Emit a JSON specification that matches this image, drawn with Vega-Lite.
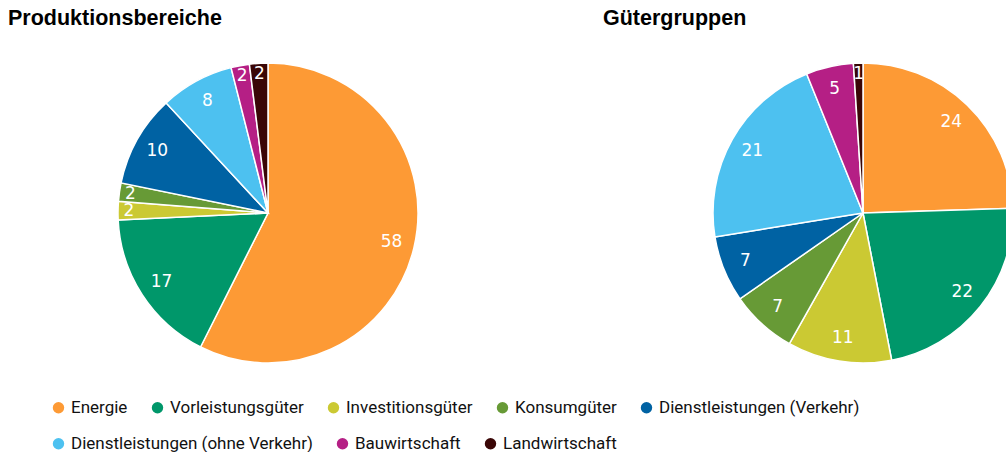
{
  "$schema": "https://vega.github.io/schema/vega-lite/v6.json",
  "padding": {"left": 8, "top": 8, "right": 0, "bottom": 0},
  "background": "white",
  "data": {"values": [
    {"gruppe": "Produktionsbereiche", "kategorie": "Energie", "k": 1, "wert": 58},
    {"gruppe": "Produktionsbereiche", "kategorie": "Vorleistungsgüter", "k": 2, "wert": 17},
    {"gruppe": "Produktionsbereiche", "kategorie": "Investitionsgüter", "k": 3, "wert": 2},
    {"gruppe": "Produktionsbereiche", "kategorie": "Konsumgüter", "k": 4, "wert": 2},
    {"gruppe": "Produktionsbereiche", "kategorie": "Dienstleistungen (Verkehr)", "k": 5, "wert": 10},
    {"gruppe": "Produktionsbereiche", "kategorie": "Dienstleistungen (ohne Verkehr)", "k": 6, "wert": 8},
    {"gruppe": "Produktionsbereiche", "kategorie": "Bauwirtschaft", "k": 7, "wert": 2},
    {"gruppe": "Produktionsbereiche", "kategorie": "Landwirtschaft", "k": 8, "wert": 2},
    {"gruppe": "Gütergruppen", "kategorie": "Energie", "k": 1, "wert": 24},
    {"gruppe": "Gütergruppen", "kategorie": "Vorleistungsgüter", "k": 2, "wert": 22},
    {"gruppe": "Gütergruppen", "kategorie": "Investitionsgüter", "k": 3, "wert": 11},
    {"gruppe": "Gütergruppen", "kategorie": "Konsumgüter", "k": 4, "wert": 7},
    {"gruppe": "Gütergruppen", "kategorie": "Dienstleistungen (Verkehr)", "k": 5, "wert": 7},
    {"gruppe": "Gütergruppen", "kategorie": "Dienstleistungen (ohne Verkehr)", "k": 6, "wert": 21},
    {"gruppe": "Gütergruppen", "kategorie": "Bauwirtschaft", "k": 7, "wert": 5},
    {"gruppe": "Gütergruppen", "kategorie": "Landwirtschaft", "k": 8, "wert": 1}
  ]},
  "facet": {
    "column": {
      "field": "gruppe",
      "sort": ["Produktionsbereiche", "Gütergruppen"],
      "title": null,
      "header": {
        "labelAnchor": "start",
        "labelAlign": "left",
        "labelFontSize": 21.5,
        "labelFontWeight": "bold",
        "labelFont": "Liberation Sans",
        "labelColor": "#000000",
        "labelPadding": 23.5
      }
    }
  },
  "spacing": 75,
  "spec": {
    "width": 520,
    "height": 320,
    "encoding": {
      "theta": {"field": "wert", "type": "quantitative", "stack": true},
      "order": {"field": "k", "type": "quantitative", "sort": "ascending"}
    },
    "layer": [
      {
        "mark": {"type": "arc", "radius": 150, "stroke": "white", "strokeWidth": 1.5},
        "encoding": {
          "color": {
            "field": "kategorie",
            "type": "nominal",
            "scale": {
              "domain": ["Energie", "Vorleistungsgüter", "Investitionsgüter", "Konsumgüter", "Dienstleistungen (Verkehr)", "Dienstleistungen (ohne Verkehr)", "Bauwirtschaft", "Landwirtschaft"],
              "range": ["#FD9A35", "#00976A", "#CBC933", "#679A36", "#0062A3", "#4DC1F0", "#B51F85", "#3A0606"]
            },
            "legend": {
              "title": null,
              "orient": "none",
              "legendX": 42,
              "legendY": 346,
              "direction": "horizontal",
              "values": ["Energie", "Vorleistungsgüter", "Investitionsgüter", "Konsumgüter", "Dienstleistungen (Verkehr)"],
              "symbolType": "circle",
              "symbolSize": 130,
              "symbolStrokeWidth": 0,
              "labelFont": "Roboto",
              "labelFontSize": 17,
              "labelColor": "#111111",
              "labelLimit": 400,
              "labelOffset": 4,
              "columnPadding": 21
            }
          }
        }
      },
      {
        "mark": {"type": "arc", "radius": 150, "stroke": "white", "strokeWidth": 1.5},
        "encoding": {
          "fill": {
            "field": "kategorie",
            "type": "nominal",
            "scale": {
              "domain": ["Landwirtschaft", "Bauwirtschaft", "Dienstleistungen (ohne Verkehr)", "Dienstleistungen (Verkehr)", "Konsumgüter", "Investitionsgüter", "Vorleistungsgüter", "Energie"],
              "range": ["#3A0606", "#B51F85", "#4DC1F0", "#0062A3", "#679A36", "#CBC933", "#00976A", "#FD9A35"]
            },
            "legend": {
              "title": null,
              "orient": "none",
              "legendX": 42,
              "legendY": 382,
              "direction": "horizontal",
              "values": ["Dienstleistungen (ohne Verkehr)", "Bauwirtschaft", "Landwirtschaft"],
              "symbolType": "circle",
              "symbolSize": 130,
              "symbolStrokeWidth": 0,
              "symbolStrokeColor": "transparent",
              "labelFont": "Roboto",
              "labelFontSize": 17,
              "labelColor": "#111111",
              "labelLimit": 400,
              "labelOffset": 4,
              "columnPadding": 21
            }
          }
        }
      },
      {
        "mark": {"type": "text", "radius": {"expr": "datum.wert <= 2 ? 139 : 127"}, "fill": "white", "font": "DejaVu Sans", "fontSize": 17, "align": "center", "baseline": "middle"},
        "encoding": {
          "text": {"field": "wert", "type": "quantitative"}
        }
      }
    ]
  },
  "config": {
    "view": {"stroke": null}
  }
}
